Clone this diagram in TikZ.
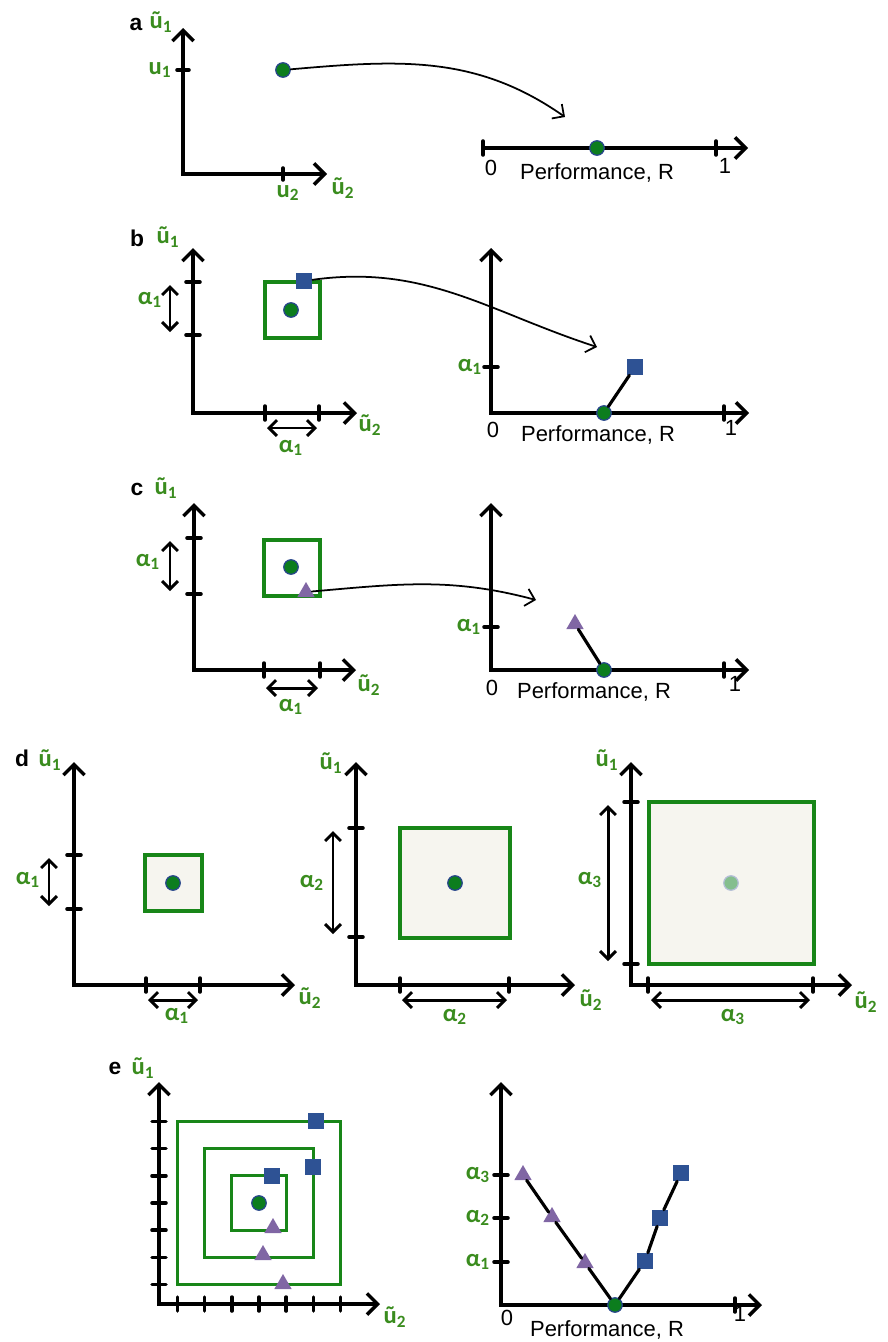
\documentclass[tikz,border=0pt]{standalone}
\usepackage{fontspec}
\setmainfont{Liberation Sans}
\newfontfamily\greekfont{Carlito}
\usetikzlibrary{arrows.meta,shapes.geometric}

\definecolor{lblgreen}{RGB}{58,140,30}
\definecolor{boxgreen}{RGB}{24,134,24}
\definecolor{dotgreen}{RGB}{12,125,30}
\definecolor{dotrim}{RGB}{40,70,140}
\definecolor{sqblue}{RGB}{46,82,148}
\definecolor{tripurple}{RGB}{128,102,164}
\definecolor{boxfill}{RGB}{246,245,239}

\begin{document}
\begin{tikzpicture}[x=0.02cm, y=-0.02cm, line cap=round]
        \tikzstyle{axes} = [draw, line width=2pt, {Straight Barb[length=6pt,width=12pt]}-{Straight Barb[length=6pt,width=12pt]}]
        \tikzstyle{axis} = [draw, line width=2pt, -{Straight Barb[length=6pt,width=12pt]}]
        \tikzstyle{tick} = [draw, line width=2pt]
        \tikzstyle{span} = [draw, line width=1.7pt, {Straight Barb[length=4.5pt,width=9pt]}-{Straight Barb[length=4.5pt,width=9pt]}]
        \tikzstyle{map} = [draw, line width=1pt, -{Straight Barb[length=5pt,width=10pt]}]
        \tikzstyle{link} = [draw, line width=1.8pt]
        \tikzstyle{region} = [draw=boxgreen, line width=1.8pt]
        \tikzstyle{lbl} = [text=lblgreen, font=\greekfont\bfseries\fontsize{14}{14}\selectfont, inner sep=0pt]
        \tikzstyle{tag} = [font=\bfseries\fontsize{13}{13}\selectfont, inner sep=0pt]
        \tikzstyle{num} = [font=\fontsize{12.5}{13}\selectfont, inner sep=0pt]
        \tikzstyle{dot} = [circle, fill=dotgreen, draw=dotrim, line width=0.7pt, minimum size=0.29cm, inner sep=0pt]
        \tikzstyle{sq} = [rectangle, fill=sqblue, minimum size=0.32cm, inner sep=0pt]
        \tikzstyle{tri} = [regular polygon, regular polygon sides=3, fill=tripurple, minimum size=0.4cm, inner sep=0pt]

        \useasboundingbox (0,0) rectangle (888,1342);

        % a
        \node [tag] (a-tag) at (136,24) {a};
        \node [lbl] (a-y) at (161,22) {ũ\textsubscript{1}};
        \draw [axes] (183,28) -- (183,174) -- (327,174);
        \draw [tick] (177,70) -- (189,70) (283,168) -- (283,180);
        \node [lbl] (a-u1) at (160,70) {u\textsubscript{1}};
        \node [lbl] (a-u2) at (288,193) {u\textsubscript{2}};
        \node [lbl] (a-x) at (343,188) {ũ\textsubscript{2}};
        \node [dot] (a-pt) at (283,70) {};
        \draw [axis] (483,148) -- (748,148);
        \draw [tick] (483,141) -- (483,155) (716,141) -- (716,155);
        \node [num] (a-0) at (491,168) {0};
        \node [num] (a-1) at (725,166) {1};
        \node [num] (a-perf) at (597,173) {Performance, R};
        \node [dot] (a-r0) at (597,148) {};
        \coordinate (a-end) at (565,117);
        \path [map] (a-pt) to[out=5, in=145] (a-end);

        % b
        \node [tag] (b-tag) at (137,238) {b};
        \node [lbl] (b-y) at (168,237) {ũ\textsubscript{1}};
        \draw [axes] (193,248) -- (193,413) -- (357,413);
        \draw [tick] (186,282) -- (200,282) (186,335) -- (200,335) (265,406) -- (265,420) (319,406) -- (319,420);
        \draw [span] (170,285) -- (170,332);
        \draw [span] (267,428) -- (317,428);
        \node [lbl] (b-a1v) at (150,300) {α\textsubscript{1}};
        \node [lbl] (b-a1h) at (291,448) {α\textsubscript{1}};
        \node [lbl] (b-x) at (370,425) {ũ\textsubscript{2}};
        \draw [region, fill=white] (265,282) rectangle (320,338);
        \node [dot] (b-pt) at (291,310) {};
        \node [sq] (b-sq) at (304,281) {};
        \draw [axes] (491,248) -- (491,413) -- (749,413);
        \draw [tick] (484,367) -- (498,367) (724,406) -- (724,420);
        \node [lbl] (b-ra1) at (470,367) {α\textsubscript{1}};
        \node [num] (b-0) at (493,430) {0};
        \node [num] (b-1) at (731,428) {1};
        \node [num] (b-perf) at (598,435) {Performance, R};
        \node [dot] (b-r0) at (604,413) {};
        \node [sq] (b-rsq) at (635,367) {};
        \path [link] (b-r0) -- (b-rsq);
        \coordinate (b-end) at (597,347);
        \path [map] (b-sq) to[out=8, in=162] (b-end);

        % c
        \node [tag] (c-tag) at (137,489) {c};
        \node [lbl] (c-y) at (166,488) {ũ\textsubscript{1}};
        \draw [axes] (194,503) -- (194,670) -- (356,670);
        \draw [tick] (187,538) -- (201,538) (187,594) -- (201,594) (264,663) -- (264,677) (320,663) -- (320,677);
        \draw [span] (170,541) -- (170,591);
        \draw [span] (266,688) -- (318,688);
        \node [lbl] (c-a1v) at (148,562) {α\textsubscript{1}};
        \node [lbl] (c-a1h) at (291,707) {α\textsubscript{1}};
        \node [lbl] (c-x) at (369,685) {ũ\textsubscript{2}};
        \draw [region, fill=white] (264,540) rectangle (320,596);
        \node [dot] (c-pt) at (291,567) {};
        \node [tri] (c-tri) at (306,592) {};
        \draw [axes] (491,503) -- (491,670) -- (749,670);
        \draw [tick] (484,627) -- (498,627) (724,663) -- (724,677);
        \node [lbl] (c-ra1) at (469,627) {α\textsubscript{1}};
        \node [num] (c-0) at (492,688) {0};
        \node [num] (c-1) at (735,684) {1};
        \node [num] (c-perf) at (594,692) {Performance, R};
        \node [dot] (c-r0) at (604,670) {};
        \node [tri] (c-rtri) at (575,624) {};
        \path [link] (c-r0) -- (c-rtri);
        \coordinate (c-end) at (536,600);
        \path [map] (c-tri) to[out=5, in=165] (c-end);

        % d
        \node [tag] (d-tag) at (22,758) {d};
        \node [lbl] (d1-y) at (50,760) {ũ\textsubscript{1}};
        \draw [axes] (74,762) -- (74,985) -- (295,985);
        \draw [tick] (67,855) -- (81,855) (67,909) -- (81,909) (146,978) -- (146,992) (200,978) -- (200,992);
        \draw [span] (49,858) -- (49,906);
        \draw [span] (148,1000) -- (198,1000);
        \node [lbl] (d1-av) at (28,880) {α\textsubscript{1}};
        \node [lbl] (d1-ah) at (177,1016) {α\textsubscript{1}};
        \node [lbl] (d1-x) at (310,998) {ũ\textsubscript{2}};
        \draw [region, fill=boxfill] (145,855) rectangle (202,911);
        \node [dot] (d1-pt) at (173,883) {};

        \node [lbl] (d2-y) at (331,763) {ũ\textsubscript{1}};
        \draw [axes] (356,762) -- (356,985) -- (575,985);
        \draw [tick] (349,828) -- (363,828) (349,937) -- (363,937) (400,978) -- (400,992) (509,978) -- (509,992);
        \draw [span] (333,831) -- (333,934);
        \draw [span] (402,1000) -- (507,1000);
        \node [lbl] (d2-av) at (312,883) {α\textsubscript{2}};
        \node [lbl] (d2-ah) at (455,1017) {α\textsubscript{2}};
        \node [lbl] (d2-x) at (591,1000) {ũ\textsubscript{2}};
        \draw [region, fill=boxfill] (400,828) rectangle (510,938);
        \node [dot] (d2-pt) at (455,883) {};

        \node [lbl] (d3-y) at (607,760) {ũ\textsubscript{1}};
        \draw [axes] (631,762) -- (631,985) -- (852,985);
        \draw [tick] (624,802) -- (638,802) (624,964) -- (638,964) (648,978) -- (648,992) (813,978) -- (813,992);
        \draw [span] (608,805) -- (608,961);
        \draw [span] (651,1000) -- (810,1000);
        \node [lbl] (d3-av) at (590,880) {α\textsubscript{3}};
        \node [lbl] (d3-ah) at (733,1017) {α\textsubscript{3}};
        \node [lbl] (d3-x) at (866,1002) {ũ\textsubscript{2}};
        \draw [region, fill=boxfill] (649,802) rectangle (814,964);
        \node [dot, fill=dotgreen!50!white, draw=dotrim!35!white] (d3-pt) at (731,883) {};

        % e
        \node [tag] (e-tag) at (115,1068) {e};
        \node [lbl] (e-y) at (143,1068) {ũ\textsubscript{1}};
        \draw [axes] (159,1082) -- (159,1304) -- (380,1304);
        \draw [tick] (152,1121.4) -- (166,1121.4) (152,1148.6) -- (166,1148.6) (152,1175.8) -- (166,1175.8)
                     (152,1203) -- (166,1203) (152,1230.2) -- (166,1230.2) (152,1257.4) -- (166,1257.4) (152,1284.6) -- (166,1284.6);
        \draw [tick] (177.4,1297) -- (177.4,1311) (204.6,1297) -- (204.6,1311) (231.8,1297) -- (231.8,1311)
                     (259,1297) -- (259,1311) (286.2,1297) -- (286.2,1311) (313.4,1297) -- (313.4,1311) (340.6,1297) -- (340.6,1311);
        \node [lbl] (e-x) at (395,1317) {ũ\textsubscript{2}};
        \draw [region] (177.4,1121.4) rectangle (340.6,1284.6);
        \draw [region] (204.6,1148.6) rectangle (313.4,1257.4);
        \draw [region] (231.8,1175.8) rectangle (286.2,1230.2);
        \node [dot] (e-pt) at (259,1203) {};
        \node [sq] (e-sq1) at (272,1175.8) {};
        \node [sq] (e-sq2) at (313.4,1167) {};
        \node [sq] (e-sq3) at (316,1121.4) {};
        \node [tri] (e-tri1) at (273,1228) {};
        \node [tri] (e-tri2) at (263,1255) {};
        \node [tri] (e-tri3) at (283,1284) {};

        \draw [axes] (501,1082) -- (501,1305) -- (762,1305);
        \draw [tick] (494,1175) -- (508,1175) (494,1218) -- (508,1218) (494,1262) -- (508,1262) (735,1298) -- (735,1312);
        \node [lbl] (e-a3) at (478,1175) {α\textsubscript{3}};
        \node [lbl] (e-a2) at (478,1218) {α\textsubscript{2}};
        \node [lbl] (e-a1) at (478,1262) {α\textsubscript{1}};
        \node [num] (e-0) at (507,1318) {0};
        \node [num] (e-1) at (740,1314) {1};
        \node [num] (e-perf) at (607,1330) {Performance, R};
        \node [dot] (e-r0) at (615,1305) {};
        \node [tri] (e-rt1) at (585,1263) {};
        \node [tri] (e-rt2) at (552,1217) {};
        \node [tri] (e-rt3) at (523,1175) {};
        \node [sq] (e-rs1) at (645,1261) {};
        \node [sq] (e-rs2) at (660,1218) {};
        \node [sq] (e-rs3) at (681,1173) {};
        \path [link] (e-rt3) -- (e-rt2) -- (e-rt1) -- (e-r0);
        \path [link] (e-r0) -- (e-rs1) -- (e-rs2) -- (e-rs3);
\end{tikzpicture}
\end{document}
